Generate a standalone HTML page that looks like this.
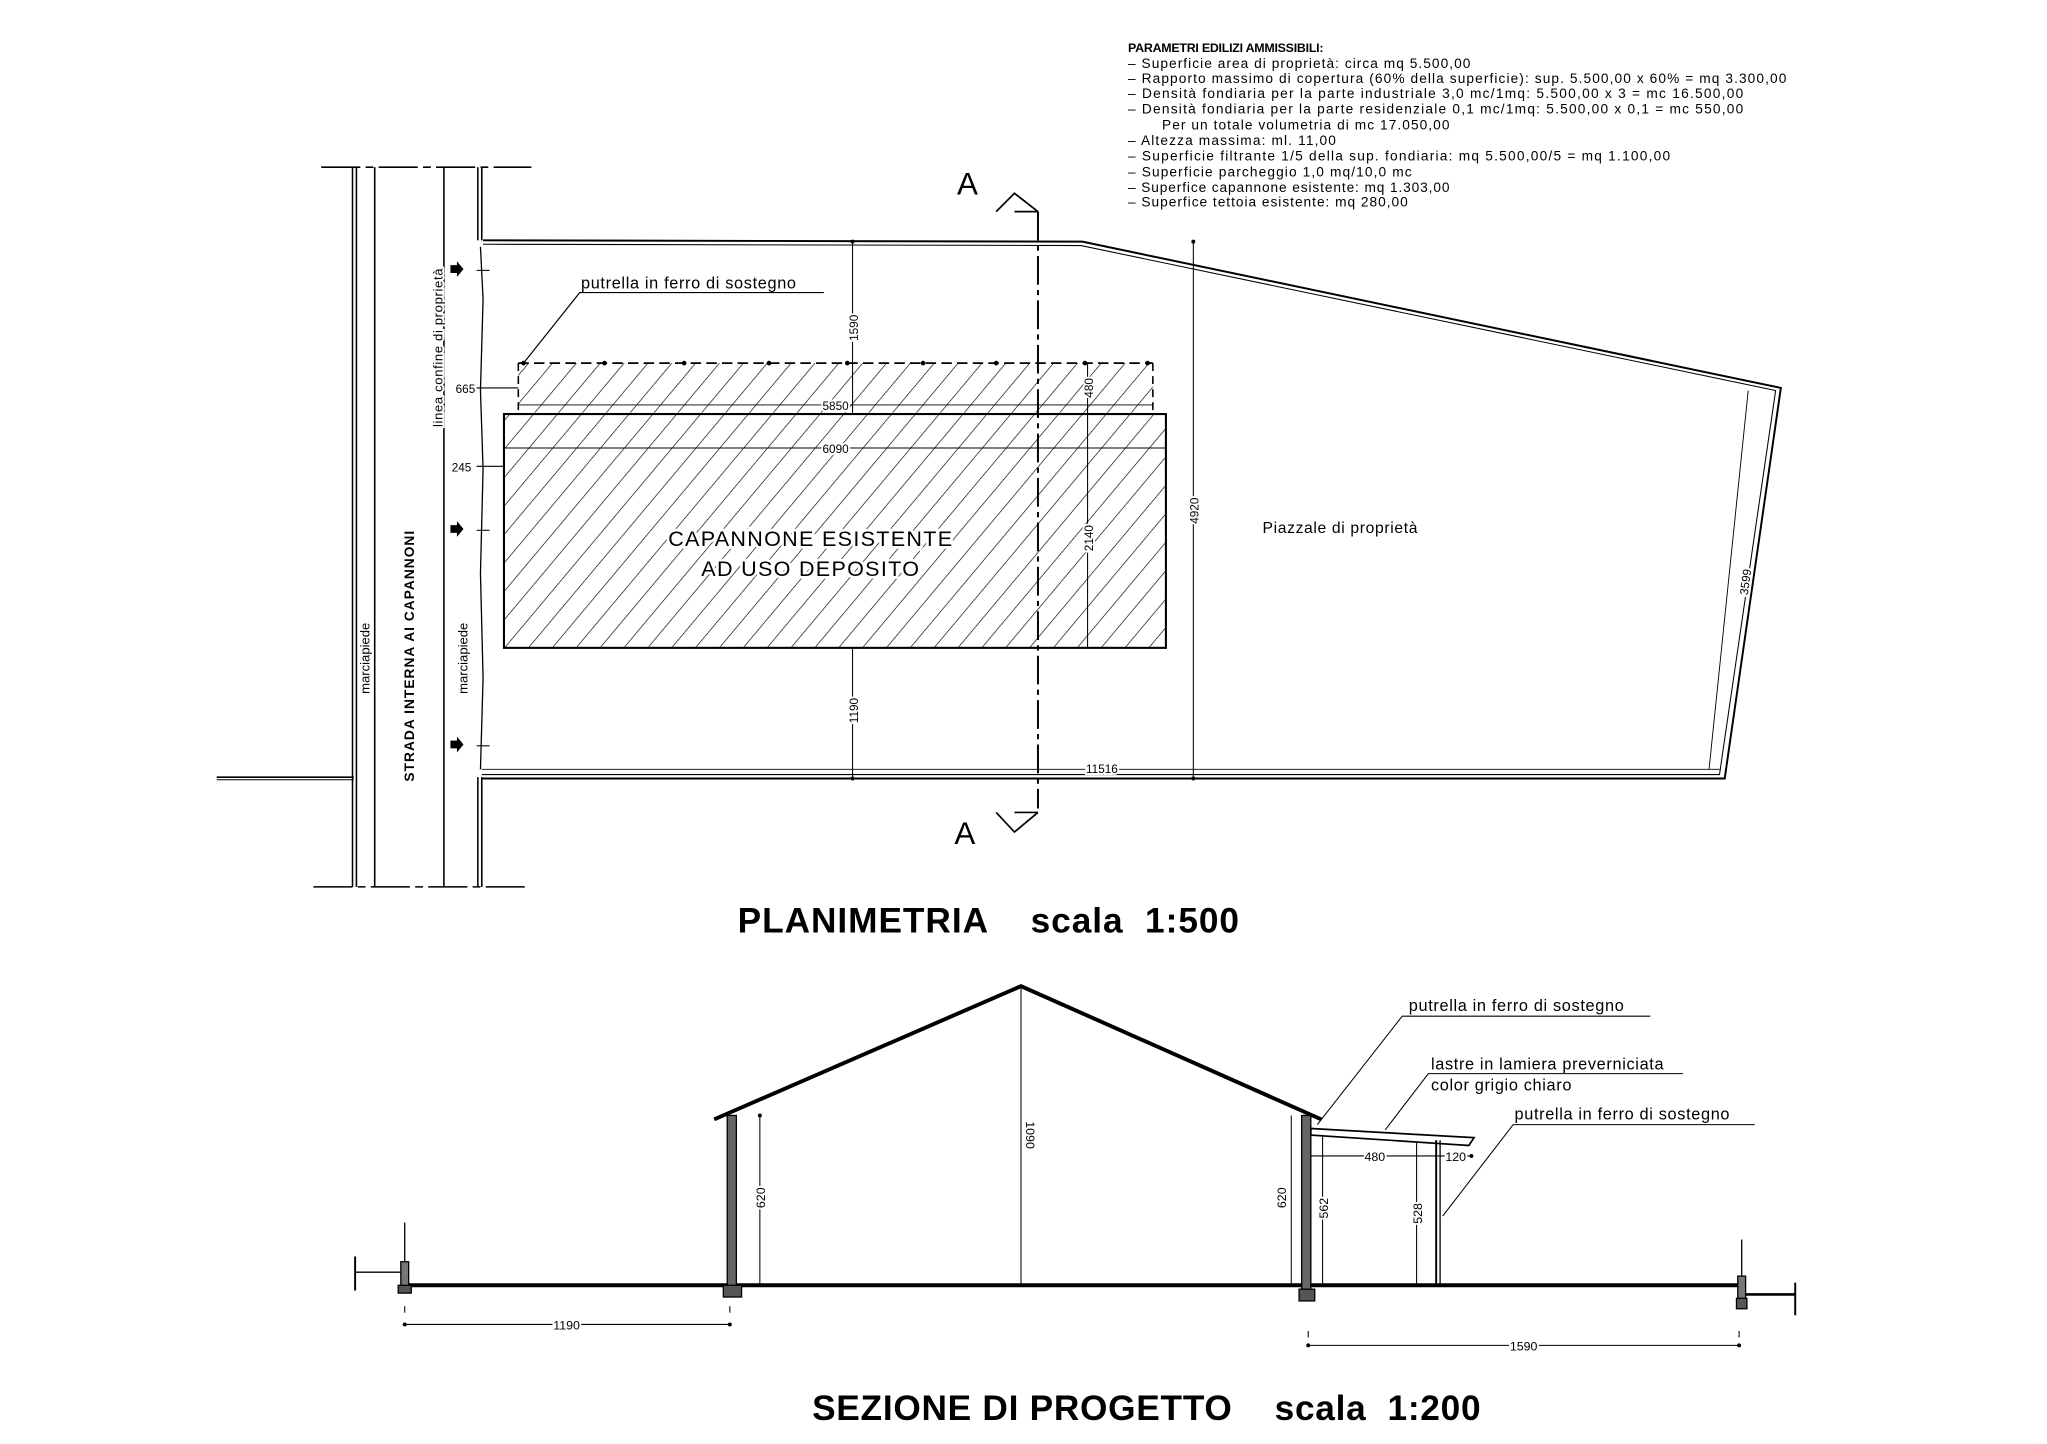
<!DOCTYPE html>
<html><head><meta charset="utf-8"><style>
html,body{margin:0;padding:0;background:#fff;}
svg{display:block;}
text{font-family:"Liberation Sans",sans-serif;fill:#000;}
</style></head><body>
<svg width="2047" height="1444" viewBox="0 0 1560 1100" preserveAspectRatio="none" xmlns="http://www.w3.org/2000/svg">
<defs>
<pattern id="h" patternUnits="userSpaceOnUse" width="14" height="14" patternTransform="rotate(40)">
<line x1="0" y1="0" x2="0" y2="14" stroke="#000" stroke-width="1"/>
</pattern>
</defs>
<rect width="1560" height="1100" fill="#fff"/>
<g transform="translate(-1,-1) scale(0.995)">
<g font-size="10.5" letter-spacing="0.8">
<text x="865" y="41" font-weight="bold" font-size="9.5" letter-spacing="0.3" textLength="150">PARAMETRI EDILIZI   AMMISSIBILI:</text>
<text x="865" y="53" textLength="263">–  Superficie area di proprietà: circa mq 5.500,00</text>
<text x="865" y="64.5" textLength="505">–  Rapporto massimo di copertura (60% della superficie): sup. 5.500,00 x 60% = mq 3.300,00</text>
<text x="865" y="76" textLength="472">–  Densità fondiaria per la parte industriale 3,0 mc/1mq: 5.500,00 x 3 = mc 16.500,00</text>
<text x="865" y="88" textLength="472">–  Densità fondiaria per la parte residenziale 0,1 mc/1mq: 5.500,00 x 0,1 = mc 550,00</text>
<text x="891" y="100" textLength="221">Per un totale volumetria di mc 17.050,00</text>
<text x="865" y="112" textLength="160">–  Altezza massima: ml. 11,00</text>
<text x="865" y="124" textLength="416">–  Superficie filtrante 1/5 della sup. fondiaria: mq 5.500,00/5 = mq 1.100,00</text>
<text x="865" y="136" textLength="218">–  Superficie parcheggio 1,0 mq/10,0 mc</text>
<text x="865" y="148" textLength="247">–  Superfice capannone esistente: mq 1.303,00</text>
<text x="865" y="159" textLength="215">–  Superfice tettoia esistente: mq 280,00</text>
</g>

<g stroke="#000" fill="none" stroke-width="1.2">
<line x1="247" y1="129" x2="408" y2="129" stroke-dasharray="30,4,6,4"/>
<line x1="241" y1="680" x2="404" y2="680" stroke-dasharray="30,4,6,4"/>
<line x1="271" y1="129" x2="271" y2="680"/>
<line x1="274" y1="129" x2="274" y2="680"/>
<line x1="288" y1="129" x2="288" y2="680"/>
<line x1="341" y1="129" x2="341" y2="680"/>
<line x1="367" y1="129" x2="367" y2="185"/>
<line x1="370" y1="129" x2="370" y2="185"/>
<line x1="367" y1="596" x2="367" y2="680"/>
<line x1="370" y1="596" x2="370" y2="680"/>
<path d="M369 190 L371 230 L369 300 L371 360 L369 440 L371 520 L369 590" stroke-width="1"/>
<line x1="167" y1="596" x2="272" y2="596"/>
<line x1="167" y1="598" x2="272" y2="598" stroke-width="0.8"/>
<path d="M371 185 L830 186 L1365 298 L1322 597 L370 597" stroke-width="1.5"/>
<path d="M371 188 L829 189 L1361 300 L1318 594 L370 594" stroke-width="0.8"/>
<rect x="398" y="279" width="486" height="38" fill="url(#h)" stroke="none"/>
<path d="M398 279 L884 279" stroke-dasharray="8,4" stroke-width="1.3"/>
<path d="M398 279 L398 317 M884 279 L884 317" stroke-dasharray="6,4"/>
<line x1="398" y1="311" x2="884" y2="311" stroke-width="0.7"/>
<rect x="387" y="318" width="507" height="179" fill="url(#h)" stroke-width="1.6"/>
<line x1="387" y1="344" x2="894" y2="344" stroke-width="0.7"/>
<path d="M796 163 L796 620" stroke-dasharray="22,4,4,4" stroke-width="1.5"/>
<path d="M764 163 L778 149 L796 163 M764 623 L778 638 L796 623" stroke-width="1.3"/>
<path d="M778 163 L796 163 M778 623 L796 623" stroke-width="1.3"/>
<line x1="654" y1="186" x2="654" y2="318" stroke-width="0.8"/>
<line x1="654" y1="497" x2="654" y2="597" stroke-width="0.8"/>
<line x1="915" y1="186" x2="915" y2="597" stroke-width="0.8"/>
<line x1="834" y1="279" x2="834" y2="497" stroke-width="0.8"/>
<line x1="370" y1="590" x2="1318" y2="590" stroke-width="0.7"/>
<line x1="1340" y1="300" x2="1310" y2="590" stroke-width="0.7"/>
<line x1="366" y1="298" x2="398" y2="298" stroke-width="0.8"/>
<line x1="366" y1="358" x2="387" y2="358" stroke-width="0.8"/>
<path d="M632 225 L445 225 L402 279" stroke-width="0.9"/>
<line x1="366" y1="208" x2="376" y2="208" stroke-width="0.8"/>
<line x1="366" y1="407" x2="376" y2="407" stroke-width="0.8"/>
<line x1="366" y1="572" x2="376" y2="572" stroke-width="0.8"/>
</g>
<g fill="#000">
<circle cx="654" cy="186" r="1.5"/><circle cx="915" cy="186" r="1.5"/><circle cx="654" cy="597" r="1.5"/><circle cx="915" cy="597" r="1.5"/>
<circle cx="402" cy="279" r="1.8"/><circle cx="464" cy="279" r="1.8"/><circle cx="525" cy="279" r="1.8"/><circle cx="590" cy="279" r="1.8"/><circle cx="650" cy="279" r="1.8"/><circle cx="708" cy="279" r="1.8"/><circle cx="764" cy="279" r="1.8"/><circle cx="832" cy="279" r="1.8"/><circle cx="880" cy="279" r="1.8"/>
<path d="M346 204 h5 v-3 l5 6 l-5 6 v-3 h-5 z"/>
<path d="M346 403 h5 v-3 l5 6 l-5 6 v-3 h-5 z"/>
<path d="M346 568 h5 v-3 l5 6 l-5 6 v-3 h-5 z"/>
</g>
<g font-size="9">
<text x="365" y="302" stroke="#fff" stroke-width="3" paint-order="stroke" text-anchor="end">665</text>
<text x="362" y="362" stroke="#fff" stroke-width="3" paint-order="stroke" text-anchor="end">245</text>
<text x="641" y="315" stroke="#fff" stroke-width="3" paint-order="stroke" text-anchor="middle">5850</text>
<text x="641" y="348" stroke="#fff" stroke-width="3" paint-order="stroke" text-anchor="middle">6090</text>
<text x="845" y="593" stroke="#fff" stroke-width="3" paint-order="stroke" text-anchor="middle">11516</text>
<text transform="translate(658,252) rotate(-90)" stroke="#fff" stroke-width="3" paint-order="stroke" text-anchor="middle">1590</text>
<text transform="translate(658,545) rotate(-90)" stroke="#fff" stroke-width="3" paint-order="stroke" text-anchor="middle">1190</text>
<text transform="translate(919,392) rotate(-90)" stroke="#fff" stroke-width="3" paint-order="stroke" text-anchor="middle">4920</text>
<text transform="translate(838,298) rotate(-90)" stroke="#fff" stroke-width="3" paint-order="stroke" text-anchor="middle">480</text>
<text transform="translate(838,413) rotate(-90)" stroke="#fff" stroke-width="3" paint-order="stroke" text-anchor="middle">2140</text>
<text transform="translate(1341,447) rotate(-82)" stroke="#fff" stroke-width="3" paint-order="stroke" text-anchor="middle">3599</text>
</g>
<text x="446" y="222" font-size="12.5" letter-spacing="0.5">putrella in ferro di sostegno</text>
<text x="968" y="409" font-size="12" letter-spacing="0.5">Piazzale di proprietà</text>
<text x="622" y="419" font-size="16.5" text-anchor="middle" stroke="#fff" stroke-width="4" paint-order="stroke" letter-spacing="1">CAPANNONE ESISTENTE</text>
<text x="622" y="442" font-size="16.5" text-anchor="middle" stroke="#fff" stroke-width="4" paint-order="stroke" letter-spacing="1">AD USO DEPOSITO</text>
<text x="742" y="150" font-size="24" text-anchor="middle">A</text>
<text x="740" y="647" font-size="24" text-anchor="middle">A</text>
<text transform="translate(340,267) rotate(-90)" font-size="10" text-anchor="middle" stroke="#fff" stroke-width="3" paint-order="stroke" letter-spacing="0.5">linea confine di proprietà</text>
<text transform="translate(284,505) rotate(-90)" font-size="10" text-anchor="middle" stroke="#fff" stroke-width="3" paint-order="stroke">marciapiede</text>
<text transform="translate(359,505) rotate(-90)" font-size="10" text-anchor="middle" stroke="#fff" stroke-width="3" paint-order="stroke">marciapiede</text>
<text transform="translate(318,503) rotate(-90)" font-size="10.5" font-weight="bold" text-anchor="middle" letter-spacing="0.8">STRADA INTERNA AI CAPANNONI</text>

<text x="566" y="715" font-size="27" font-weight="bold" xml:space="preserve" textLength="384">PLANIMETRIA    scala  1:500</text>

<g stroke="#000" fill="none">
<line x1="310" y1="985" x2="1335" y2="985" stroke-width="3"/>
<path d="M548 858 L783 756 L1013 858" stroke-width="3"/>
<rect x="558" y="855" width="7" height="132" fill="#666" stroke-width="1"/>
<rect x="555" y="985" width="14" height="9" fill="#555" stroke-width="1"/>
<rect x="998" y="855" width="7" height="135" fill="#666" stroke-width="1"/>
<rect x="996" y="988" width="12" height="9" fill="#555" stroke-width="1"/>
<rect x="308" y="967" width="6" height="20" fill="#777" stroke-width="1"/>
<rect x="306" y="985" width="10" height="6" fill="#555" stroke-width="1"/>
<line x1="311" y1="937" x2="311" y2="967" stroke-width="1"/>
<line x1="273" y1="975" x2="308" y2="975" stroke-width="1"/>
<line x1="273" y1="963" x2="273" y2="989" stroke-width="1.5"/>
<rect x="1332" y="978" width="6" height="18" fill="#777" stroke-width="1"/>
<rect x="1331" y="995" width="8" height="8" fill="#555" stroke-width="1"/>
<line x1="1335" y1="950" x2="1335" y2="978" stroke-width="1"/>
<line x1="1338" y1="992" x2="1376" y2="992" stroke-width="2"/>
<line x1="1376" y1="983" x2="1376" y2="1008" stroke-width="1.5"/>
<path d="M1005 865 L1130 872 L1126 878 L1005 870 Z" stroke-width="1.3"/>
<line x1="1101" y1="874" x2="1101" y2="985" stroke-width="1.5"/>
<line x1="1104" y1="874" x2="1104" y2="985" stroke-width="1"/>
<g stroke-width="0.8">
<line x1="783" y1="758" x2="783" y2="985"/>
<line x1="583" y1="855" x2="583" y2="985"/>
<line x1="990" y1="855" x2="990" y2="985"/>
<line x1="1014" y1="870" x2="1014" y2="985"/>
<line x1="1086" y1="876" x2="1086" y2="985"/>
<line x1="1005" y1="886" x2="1101" y2="886"/>
<line x1="1101" y1="886" x2="1128" y2="886"/>
<line x1="311" y1="1015" x2="560" y2="1015"/>
<line x1="311" y1="1001" x2="311" y2="1006"/>
<line x1="560" y1="1001" x2="560" y2="1006"/>
<line x1="1003" y1="1031" x2="1333" y2="1031"/>
<line x1="1003" y1="1020" x2="1003" y2="1025"/>
<line x1="1333" y1="1020" x2="1333" y2="1025"/>
<path d="M1265 779 L1075 779 L1010 862"/>
<path d="M1290 823 L1095 823 L1062 866"/>
<path d="M1345 862 L1160 862 L1106 932"/>
</g>
</g>
<g fill="#000">
<circle cx="311" cy="1015" r="1.5"/><circle cx="560" cy="1015" r="1.5"/>
<circle cx="1003" cy="1031" r="1.5"/><circle cx="1333" cy="1031" r="1.5"/>
<circle cx="583" cy="855" r="1.5"/><circle cx="1128" cy="886" r="1.5"/>
</g>
<g font-size="9.5" stroke="#fff" stroke-width="3" paint-order="stroke">
<text x="435" y="1019" text-anchor="middle">1190</text>
<text x="1168" y="1035" text-anchor="middle">1590</text>
<text x="1054" y="890" text-anchor="middle">480</text>
<text x="1116" y="890" text-anchor="middle">120</text>
<text transform="translate(787,870) rotate(90)" text-anchor="middle">1090</text>
<text transform="translate(587,918) rotate(-90)" text-anchor="middle">620</text>
<text transform="translate(986,918) rotate(-90)" text-anchor="middle">620</text>
<text transform="translate(1018,926) rotate(-90)" text-anchor="middle">562</text>
<text transform="translate(1090,930) rotate(-90)" text-anchor="middle">528</text>
</g>
<g font-size="12.5" letter-spacing="0.5">
<text x="1080" y="775">putrella in ferro di sostegno</text>
<text x="1097" y="820">lastre in lamiera preverniciata</text>
<text x="1097" y="836">color grigio chiaro</text>
<text x="1161" y="858">putrella in ferro di sostegno</text>
</g>

<text x="623" y="1088" font-size="27" font-weight="bold" xml:space="preserve" textLength="512">SEZIONE DI PROGETTO    scala  1:200</text>
</g>
</svg>
</body></html>
